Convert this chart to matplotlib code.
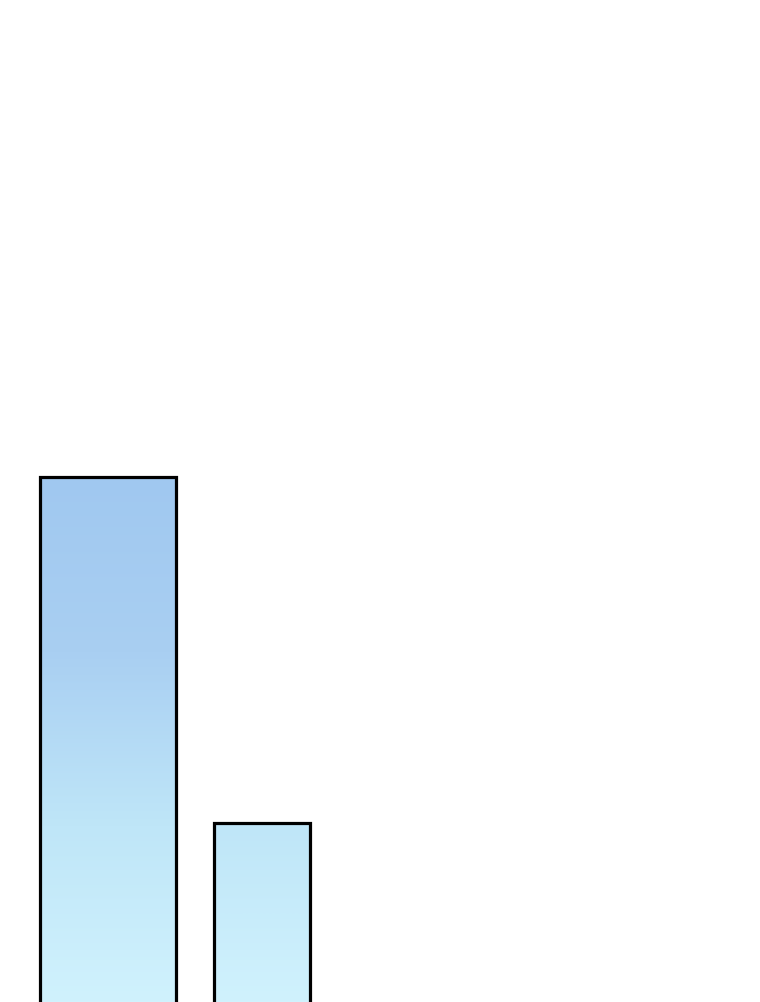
import numpy as np
import matplotlib
matplotlib.use("Agg")
import matplotlib.pyplot as plt
from matplotlib.colors import LinearSegmentedColormap

# bar values (axis units 0-100, bars run off the bottom edge)
labels = ["A", "B"]
values = [52.4, 17.9]

# layout
x_pos = [108, 262]
widths = [136, 96]
base = -5


def main():
    fig = plt.figure(figsize=(7.6, 10.02), dpi=100)
    ax = fig.add_axes([0, 0, 1, 1])
    ax.set_xlim(0, 760)
    ax.set_ylim(0, 100)
    ax.axis("off")

    cmap = LinearSegmentedColormap.from_list(
        "sky", ["#d0f2fd", "#bfe6f8", "#a9cff2", "#a0c8f0"])
    grad = np.linspace(0, 1, 256).reshape(-1, 1)

    bars = ax.bar(x_pos, [v - base for v in values], width=widths,
                  bottom=base, facecolor="none", edgecolor="black",
                  linewidth=2.3, zorder=3)
    for b in bars:
        im = ax.imshow(grad, cmap=cmap, origin="lower", aspect="auto",
                       extent=[0, 760, 0, max(values)], zorder=2)
        im.set_clip_path(b)
    ax.set_xlim(0, 760)
    ax.set_ylim(0, 100)

    fig.savefig("out.png", dpi=100)


if __name__ == "__main__":
    main()
